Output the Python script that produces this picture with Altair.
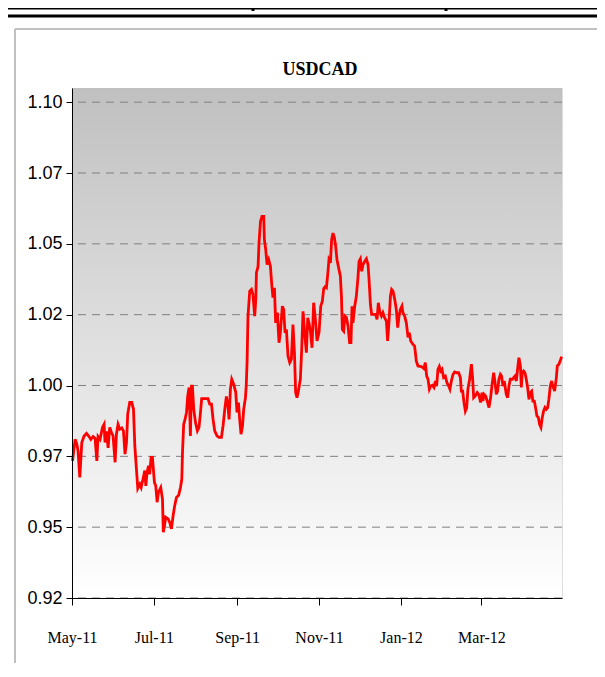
import altair as alt
import pandas as pd

# ---------------- data ----------------
title_text = "USDCAD"
start_date = "2011-05-01"

# days after 1 May 2011
days = [
    0.4, 2.3, 3.6, 4.5, 5.8, 7.3, 9.0, 10.8, 12.7, 14.0,
    15.7, 17.2, 18.5, 19.4, 20.9, 22.7, 23.9, 24.6, 25.7, 26.9,
    28.1, 29.4, 30.6, 32.1, 33.1, 34.3, 35.6, 37.1, 38.3, 39.5,
    40.6, 41.5, 43.0, 44.5, 45.8, 46.8, 48.0, 49.0, 50.5, 51.5,
    52.9, 54.2, 55.0, 55.9, 57.0, 57.9, 58.9, 59.9, 61.4, 62.4,
    63.4, 64.4, 66.1, 67.4, 68.0, 68.9, 69.8, 71.6, 72.8, 74.1,
    75.3, 76.5, 77.8, 79.5, 80.8, 81.8, 82.3, 83.2, 84.2, 85.3,
    86.2, 87.2, 88.2, 89.0, 89.7, 90.7, 92.0, 93.4, 94.6, 95.7,
    96.6, 98.9, 101.3, 102.6, 103.9, 105.1, 106.3, 108.0, 109.5, 111.3,
    112.5, 113.8, 115.0, 116.2, 117.0, 118.0, 119.0, 120.5, 122.0, 122.9,
    124.0, 124.9, 125.9, 127.0, 127.9, 129.2, 129.8, 130.4, 131.1, 132.4,
    133.7, 134.8, 136.1, 136.9, 137.4, 138.6, 139.3, 140.4, 141.5, 142.8,
    143.3, 144.3, 145.3, 146.5, 147.8, 148.8, 149.7, 150.8, 151.7, 153.0,
    154.2, 155.2, 156.7, 157.7, 158.7, 159.7, 160.9, 162.2, 163.4, 164.6,
    165.7, 166.6, 167.6, 168.6, 170.1, 171.1, 172.1, 173.3, 174.6, 175.6,
    176.5, 177.6, 178.8, 180.0, 181.3, 182.5, 184.0, 185.3, 186.5, 187.5,
    188.5, 189.5, 190.7, 191.4, 192.5, 193.4, 194.4, 195.5, 196.4, 197.4,
    198.9, 199.9, 200.7, 201.4, 202.4, 203.3, 204.4, 205.6, 206.8, 207.8,
    208.6, 209.3, 210.6, 211.8, 213.0, 213.8, 214.8, 215.8, 216.8, 218.0,
    219.3, 220.5, 221.2, 222.3, 223.2, 224.7, 226.2, 227.2, 228.2, 229.2,
    230.5, 231.6, 232.9, 234.2, 235.1, 236.1, 237.2, 238.1, 239.1, 240.4,
    241.6, 242.6, 243.6, 244.6, 245.8, 246.5, 247.8, 249.1, 250.3, 251.3,
    252.3, 254.0, 255.2, 256.5, 257.7, 260.2, 262.0, 263.2, 264.2, 265.2,
    266.2, 267.2, 268.4, 269.6, 270.7, 271.6, 272.6, 273.6, 274.6, 275.6,
    276.8, 278.1, 279.3, 280.6, 281.5, 282.6, 283.8, 285.0, 286.5, 288.0,
    289.3, 290.0, 291.0, 292.0, 293.0, 294.0, 294.9, 296.2, 297.5, 298.4,
    299.2, 300.4, 301.9, 302.9, 304.4, 305.4, 306.1, 306.9, 308.1, 309.6,
    310.6, 311.8, 313.1, 314.1, 315.0, 316.1, 317.0, 318.0, 319.1, 320.0,
    321.0, 322.0, 323.5, 324.5, 325.5, 326.5, 328.0, 329.0, 329.9, 331.0,
    331.9, 332.9, 334.0, 334.7, 335.4, 336.4, 337.4, 338.4, 339.4, 340.4,
    341.4, 342.4, 343.3, 344.4, 345.3, 346.3, 347.4, 348.3, 349.3, 350.3,
    351.3, 352.3, 353.3, 354.3, 355.2, 356.3, 357.3, 358.2, 359.5, 360.8,
    361.5, 362.7, 364.0, 364.7,
]

usdcad = [
    0.9734, 0.9810, 0.9793, 0.9770, 0.9676, 0.9799, 0.9822, 0.9831, 0.9820, 0.9810,
    0.9820, 0.9813, 0.9734, 0.9820, 0.9810, 0.9852, 0.9863, 0.9799, 0.9838, 0.9780,
    0.9852, 0.9834, 0.9822, 0.9729, 0.9828, 0.9863, 0.9846, 0.9850, 0.9840, 0.9758,
    0.9799, 0.9899, 0.9940, 0.9940, 0.9916, 0.9787, 0.9705, 0.9637, 0.9652, 0.9640,
    0.9670, 0.9700, 0.9646, 0.9693, 0.9717, 0.9687, 0.9746, 0.9746, 0.9658, 0.9646,
    0.9588, 0.9623, 0.9640, 0.9599, 0.9482, 0.9505, 0.9535, 0.9529, 0.9517, 0.9494,
    0.9540, 0.9576, 0.9605, 0.9613, 0.9640, 0.9670, 0.9764, 0.9863, 0.9880, 0.9905,
    0.9963, 0.9993, 0.9822, 0.9998, 0.9998, 0.9916, 0.9869, 0.9840, 0.9852, 0.9905,
    0.9954, 0.9954, 0.9954, 0.9934, 0.9934, 0.9880, 0.9840, 0.9822, 0.9817, 0.9817,
    0.9857, 0.9916, 0.9961, 0.9928, 0.9880, 0.9987, 1.0022, 1.0004, 0.9975, 0.9905,
    0.9940, 0.9880, 0.9828, 0.9857, 0.9916, 0.9957, 1.0000, 1.0080, 1.0245, 1.0333,
    1.0339, 1.0321, 1.0245, 1.0304, 1.0398, 1.0421, 1.0503, 1.0579, 1.0597, 1.0597,
    1.0515, 1.0480, 1.0427, 1.0444, 1.0421, 1.0356, 1.0310, 1.0345, 1.0221, 1.0257,
    1.0151, 1.0186, 1.0280, 1.0268, 1.0186, 1.0198, 1.0104, 1.0081, 1.0092, 1.0215,
    1.0116, 0.9975, 0.9957, 0.9980, 1.0022, 1.0127, 1.0262, 1.0186, 1.0116, 1.0239,
    1.0221, 1.0192, 1.0133, 1.0292, 1.0233, 1.0157, 1.0186, 1.0280, 1.0298, 1.0342,
    1.0348, 1.0345, 1.0403, 1.0444, 1.0433, 1.0515, 1.0538, 1.0521, 1.0491, 1.0444,
    1.0409, 1.0386, 1.0315, 1.0198, 1.0192, 1.0245, 1.0240, 1.0210, 1.0151, 1.0151,
    1.0280, 1.0221, 1.0280, 1.0315, 1.0380, 1.0438, 1.0447, 1.0403, 1.0427, 1.0438,
    1.0447, 1.0427, 1.0380, 1.0286, 1.0251, 1.0251, 1.0251, 1.0233, 1.0292, 1.0262,
    1.0245, 1.0257, 1.0239, 1.0227, 1.0157, 1.0221, 1.0315, 1.0339, 1.0333, 1.0304,
    1.0268, 1.0204, 1.0245, 1.0268, 1.0280, 1.0257, 1.0245, 1.0220, 1.0170, 1.0186,
    1.0157, 1.0145, 1.0139, 1.0086, 1.0069, 1.0067, 1.0060, 1.0081, 1.0033, 1.0022,
    0.9987, 0.9998, 1.0001, 0.9993, 1.0016, 0.9998, 1.0057, 1.0067, 1.0051, 1.0057,
    1.0028, 1.0033, 1.0010, 0.9998, 0.9987, 1.0016, 1.0039, 1.0048, 1.0045, 1.0045,
    1.0028, 0.9980, 0.9980, 0.9940, 0.9910, 0.9922, 0.9987, 1.0022, 1.0075, 1.0028,
    0.9957, 0.9963, 0.9975, 0.9969, 0.9940, 0.9975, 0.9945, 0.9969, 0.9963, 0.9940,
    0.9922, 0.9957, 1.0010, 1.0045, 1.0016, 0.9969, 0.9980, 1.0022, 1.0039, 1.0033,
    0.9998, 1.0016, 0.9969, 0.9957, 0.9998, 1.0022, 1.0022, 1.0028, 1.0033, 1.0016,
    1.0057, 1.0098, 1.0069, 0.9993, 1.0045, 1.0051, 1.0045, 1.0022, 0.9993, 0.9951,
    0.9975, 0.9980, 0.9945, 0.9945, 0.9922, 0.9893, 0.9887, 0.9863, 0.9852, 0.9887,
    0.9910, 0.9922, 0.9916, 0.9922, 0.9951, 0.9998, 1.0016, 0.9998, 0.9980, 1.0028,
    1.0069, 1.0075, 1.0092, 1.0102,
]

y_ticks = [0.925, 0.95, 0.975, 1.0, 1.025, 1.05, 1.075, 1.10]
y_domain = [0.925, 1.105]
x_tick_dates = ["2011-05-01", "2011-07-01", "2011-09-01", "2011-11-01", "2012-01-01", "2012-03-01"]
x_domain_dates = ["2011-05-01", "2012-04-30"]

assert len(days) == len(usdcad)

# ---------------- build chart ----------------
df = pd.DataFrame({
    "date": pd.Timestamp(start_date) + pd.to_timedelta(days, unit="D"),
    "rate": usdcad,
    "i": list(range(len(days))),
})


def dt(s):
    return alt.DateTime(year=int(s[:4]), month=int(s[5:7]), date=int(s[8:10]))


W, H = 490, 510
one = alt.Data(values=[{}])

grad = alt.LinearGradient(
    gradient="linear",
    stops=[alt.GradientStop(color="#c0c0c0", offset=0),
           alt.GradientStop(color="#ffffff", offset=1)],
    x1=0, x2=0, y1=0, y2=1,
)

x_scale = alt.Scale(domain=[dt(s) for s in x_domain_dates])
y_scale = alt.Scale(domain=y_domain, zero=False, nice=False)

y_axis = alt.Axis(
    values=y_ticks,
    labelExpr="format(floor(datum.value * 100 + 0.001) / 100, '.2f')",
    title=None,
    grid=False,
    labelFont="Liberation Sans",
    labelFontSize=18,
    labelColor="black",
    labelPadding=4,
    tickColor="black",
    tickSize=6,
    domainColor="black",
    zindex=1,
)

x_axis = alt.Axis(
    values=[dt(s) for s in x_tick_dates],
    format="%b-%y",
    title=None,
    grid=False,
    labelFont="Liberation Serif",
    labelFontSize=16,
    labelColor="black",
    labelPadding=24,
    labelFlush=False,
    labelOverlap=False,
    tickColor="black",
    tickSize=7,
    domainColor="black",
    zindex=1,
)

bg = alt.Chart(one).mark_rect(fill=grad, strokeWidth=0).encode(
    x=alt.value(0), x2=alt.value(W), y=alt.value(0), y2=alt.value(H)
)

grid = alt.Chart(pd.DataFrame({"rate": y_ticks})).mark_rule(
    color="#808080", strokeWidth=1, strokeDash=[8, 6]
).encode(y=alt.Y("rate:Q", scale=y_scale, axis=y_axis))

line = alt.Chart(df).mark_line(color="#ff0000", strokeWidth=2.8).encode(
    x=alt.X("date:T", scale=x_scale, axis=x_axis),
    y=alt.Y("rate:Q", scale=y_scale, axis=y_axis),
    order=alt.Order("i:Q"),
)

title_mark = alt.Chart(one).mark_text(
    text=title_text,
    font="Liberation Serif",
    fontSize=18,
    fontWeight="bold",
    color="black",
    align="center",
    baseline="middle",
).encode(x=alt.value(248), y=alt.value(-18))

# page decoration (frame lines around the chart object)
deco_black = alt.Chart(one).mark_rule(color="black", strokeWidth=3).encode(
    x=alt.value(-64), x2=alt.value(525), y=alt.value(-72)
)
deco_black_top = alt.Chart(one).mark_rule(color="black", strokeWidth=3).encode(
    x=alt.value(-64), x2=alt.value(525), y=alt.value(-80)
)
deco_tick1 = alt.Chart(one).mark_rule(color="black", strokeWidth=3).encode(
    x=alt.value(181), y=alt.value(-80), y2=alt.value(-77)
)
deco_tick2 = alt.Chart(one).mark_rule(color="black", strokeWidth=3).encode(
    x=alt.value(374), y=alt.value(-80), y2=alt.value(-77)
)
frame_left = alt.Chart(one).mark_rule(color="#c0c0c0", strokeWidth=2).encode(
    x=alt.value(-57), y=alt.value(-59), y2=alt.value(H + 70)
)
frame_top = alt.Chart(one).mark_rule(color="#c0c0c0", strokeWidth=2).encode(
    x=alt.value(-57), x2=alt.value(530), y=alt.value(-59)
)

chart = alt.layer(
    bg, grid, line, title_mark,
    deco_black, deco_black_top, deco_tick1, deco_tick2, frame_left, frame_top
).properties(
    width=W,
    height=H,
    padding={"left": 64, "top": 80, "right": 35, "bottom": 65},
    autosize=alt.AutoSizeParams(type="none"),
).configure_view(stroke=None).configure(background="white")

chart.save("out.html", embed_options={"renderer": "svg", "actions": False})
